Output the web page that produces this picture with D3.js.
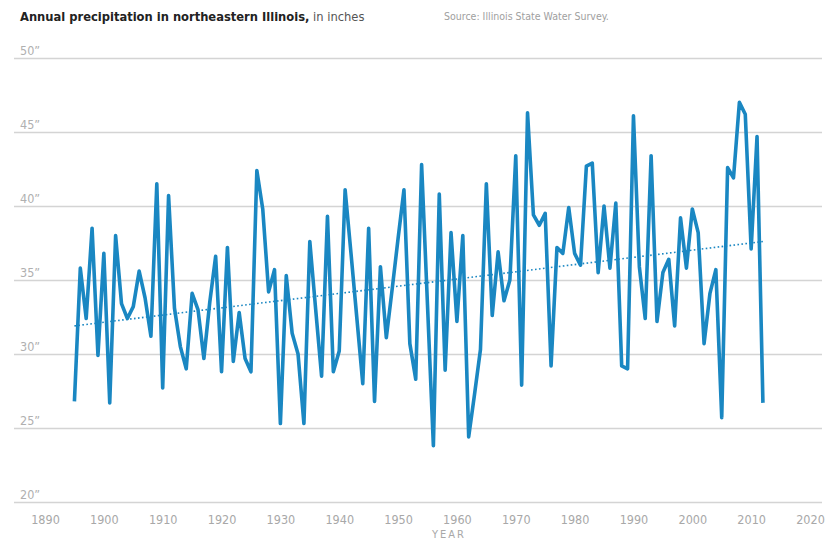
<!DOCTYPE html>
<html>
<head>
<meta charset="utf-8">
<script src="https://cdn.jsdelivr.net/npm/d3@7"></script>
<style>
  body { margin: 0; background: #fff; }
  svg { display: block; }
  text { font-family: "Liberation Sans Narrow", "DejaVu Sans Condensed", "Roboto", sans-serif; }
</style>
</head>
<body>
<svg id="chart"></svg>
<script>
// years on the x axis
const years = [
    1895, 1896, 1897, 1898, 1899,
    1900, 1901, 1902, 1903, 1904, 1905, 1906, 1907, 1908, 1909,
    1910, 1911, 1912, 1913, 1914, 1915, 1916, 1917, 1918, 1919,
    1920, 1921, 1922, 1923, 1924, 1925, 1926, 1927, 1928, 1929,
    1930, 1931, 1932, 1933, 1934, 1935, 1936, 1937, 1938, 1939,
    1940, 1941, 1942, 1943, 1944, 1945, 1946, 1947, 1948, 1949,
    1950, 1951, 1952, 1953, 1954, 1955, 1956, 1957, 1958, 1959,
    1960, 1961, 1962, 1963, 1964, 1965, 1966, 1967, 1968, 1969,
    1970, 1971, 1972, 1973, 1974, 1975, 1976, 1977, 1978, 1979,
    1980, 1981, 1982, 1983, 1984, 1985, 1986, 1987, 1988, 1989,
    1990, 1991, 1992, 1993, 1994, 1995, 1996, 1997, 1998, 1999,
    2000, 2001, 2002, 2003, 2004, 2005, 2006, 2007, 2008, 2009,
    2010, 2011, 2012
];

// annual precipitation, inches
const precipitation = [
    26.8, 35.8, 32.4, 38.5, 29.9,
    36.8, 26.7, 38.0, 33.4, 32.4, 33.2, 35.6, 33.8, 31.2, 41.5,
    27.7, 40.7, 33.1, 30.5, 29.0, 34.1, 33.0, 29.7, 33.5, 36.6,
    28.8, 37.2, 29.5, 32.8, 29.7, 28.8, 42.4, 39.8, 34.2, 35.7,
    25.3, 35.3, 31.4, 30.0, 25.3, 37.6, 33.0, 28.5, 39.3, 28.8,
    30.2, 41.1, 36.8, 32.4, 28.0, 38.5, 26.8, 35.9, 31.1, 34.4,
    37.8, 41.1, 30.7, 28.3, 42.8, 33.3, 23.8, 40.8, 28.9, 38.2,
    32.2, 38.0, 24.4, 27.3, 30.3, 41.5, 32.6, 36.9, 33.6, 35.0,
    43.4, 27.9, 46.3, 39.4, 38.7, 39.5, 29.2, 37.2, 36.8, 39.9,
    36.8, 36.0, 42.7, 42.9, 35.5, 40.0, 35.8, 40.2, 29.2, 29.0,
    46.1, 35.9, 32.4, 43.4, 32.2, 35.5, 36.4, 31.9, 39.2, 35.8,
    39.8, 38.2, 30.7, 34.1, 35.7, 25.7, 42.6, 41.9, 47.0, 46.2,
    37.1, 44.7, 26.7
];

// dotted trend line, read at its two ends
const trendYears = [1895, 2012];
const trendValues = [31.9, 37.6];

const xTicks = [1890, 1900, 1910, 1920, 1930, 1940, 1950, 1960, 1970, 1980, 1990, 2000, 2010, 2020];
const yTicks = [20, 25, 30, 35, 40, 45, 50];

const width = 828, height = 541;
const blue = "#1a87c2";
const grey = "#b0b0b0";

const svg = d3.select("#chart")
    .attr("width", width)
    .attr("height", height);

const x = d3.scaleLinear().domain([1890, 2020]).range([45, 810]);
const y = d3.scaleLinear().domain([20, 50]).range([502, 58]);

// horizontal grid with labels sitting above each line
const yAxis = svg.append("g")
    .attr("transform", "translate(14, 0)")
    .call(d3.axisRight(y).tickValues(yTicks).tickSize(808).tickFormat(function (d) {
        return d + "\u201D";
    }));
yAxis.select(".domain").remove();
yAxis.selectAll(".tick line")
    .attr("stroke", "#d4d4d4")
    .attr("stroke-width", 1.5);
yAxis.selectAll(".tick text")
    .attr("x", 6)
    .attr("dy", -4)
    .attr("fill", grey)
    .style("font-size", "12.5px")
    .style("text-anchor", "start");

// year labels
const xAxis = svg.append("g")
    .attr("transform", "translate(0, 512)")
    .call(d3.axisBottom(x).tickValues(xTicks).tickSize(0).tickFormat(d3.format("d")));
xAxis.select(".domain").remove();
xAxis.selectAll(".tick text")
    .attr("fill", "#a8a8a8")
    .style("font-size", "12.5px");

svg.append("text")
    .attr("x", x(1960) - 8)
    .attr("y", 538)
    .attr("fill", "#a8a8a8")
    .style("font-size", "11px")
    .style("letter-spacing", "2px")
    .style("text-anchor", "middle")
    .text("YEAR");

// trend
const trend = trendYears.map(function (d, i) {
    return { year: d, value: trendValues[i] };
});
svg.append("path")
    .datum(trend)
    .attr("fill", "none")
    .attr("stroke", blue)
    .attr("stroke-width", 1.6)
    .attr("stroke-dasharray", "1.6,2.4")
    .attr("d", d3.line()
        .x(function (d) { return x(d.year); })
        .y(function (d) { return y(d.value); }));

// precipitation line
const series = years.map(function (d, i) {
    return { year: d, value: precipitation[i] };
});
svg.append("path")
    .datum(series)
    .attr("fill", "none")
    .attr("stroke", blue)
    .attr("stroke-width", 3.6)
    .attr("stroke-linejoin", "round")
    .attr("d", d3.line()
        .x(function (d) { return x(d.year); })
        .y(function (d) { return y(d.value); }));

// title and source
const title = svg.append("text")
    .attr("x", 20)
    .attr("y", 21)
    .attr("fill", "#222")
    .style("font-size", "12.8px");
title.append("tspan")
    .style("font-weight", "bold")
    .text("Annual precipitation in northeastern Illinois,");
title.append("tspan")
    .attr("fill", "#555")
    .text(" in inches");

svg.append("text")
    .attr("x", 444)
    .attr("y", 20)
    .attr("fill", "#a0a0a0")
    .style("font-size", "10.5px")
    .text("Source: Illinois State Water Survey.");
</script>
</body>
</html>
